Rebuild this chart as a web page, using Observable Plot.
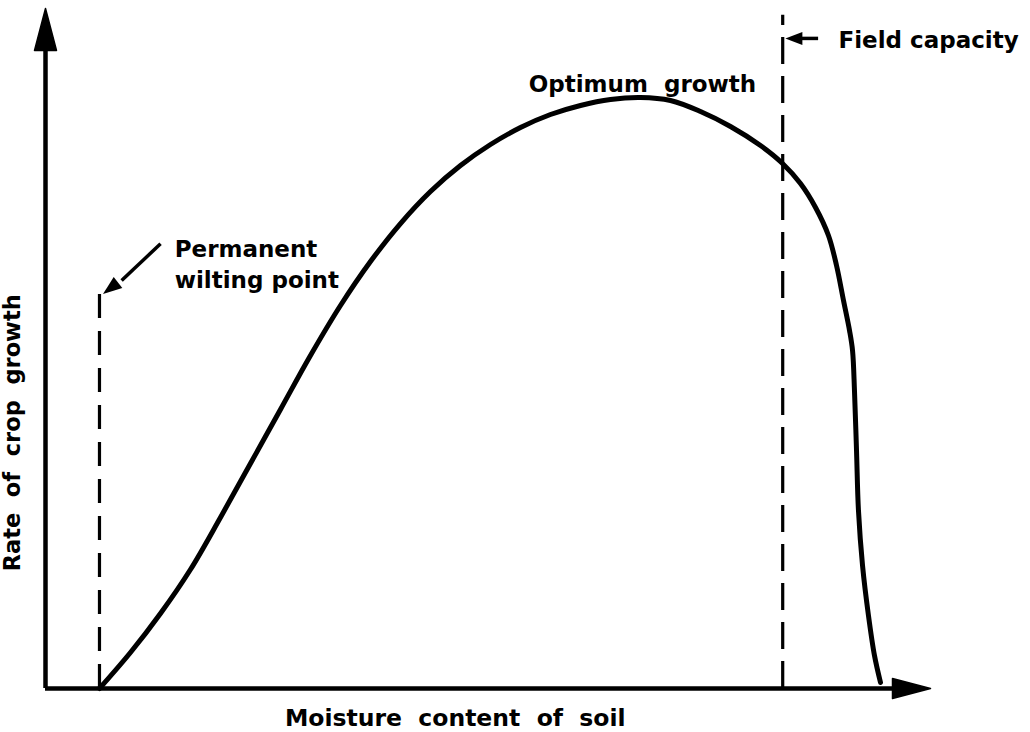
<!DOCTYPE html>
<html>
<head>
<meta charset="utf-8">
<script src="https://cdn.jsdelivr.net/npm/d3@7"></script>
<script src="https://cdn.jsdelivr.net/npm/@observablehq/plot@0.6"></script>
<style>
  html, body { margin: 0; padding: 0; background: #fff; }
  #chart svg { display: block; }
</style>
</head>
<body>
<div id="chart"></div>
<script>
// Moisture content of soil (0..100, arbitrary units) vs rate of crop growth (0..100)
const moisture = [6.10, 9.60, 12.99, 16.38, 19.77, 23.16, 26.55, 29.94, 33.33, 36.72, 40.11, 43.50, 46.89, 50.28, 53.67, 57.06, 60.45, 63.84, 67.23, 70.62, 74.01, 77.40, 80.79, 83.28, 85.31, 87.01, 88.47, 89.38, 90.17, 90.85, 91.19, 91.41, 91.64, 91.86, 92.32, 92.99, 93.67, 94.35];
const growth   = [0.00, 5.29, 11.03, 17.50, 25.15, 33.09, 41.03, 48.97, 56.32, 62.79, 68.38, 73.09, 76.91, 80.00, 82.50, 84.41, 85.74, 86.62, 86.91, 86.47, 84.85, 82.65, 79.85, 77.21, 74.26, 70.74, 66.62, 62.21, 57.06, 52.65, 49.71, 43.82, 35.00, 26.18, 18.09, 10.74, 4.85, 0.88];

const wiltingPoint = 6.1;   // moisture at permanent wilting point
const wiltingTop = 59.7;
const fieldCapacity = 83.3; // moisture at field capacity
const fieldTop = 99;

const labels = ["Field capacity", "Optimum  growth", "Permanent\nwilting point"];
const labelX = [89.6, 54.6, 14.6];
const labelY = [95.7, 89.2, 62.6];

const xTitle = "Moisture  content  of  soil";
const yTitle = "Rate  of  crop  growth";

const curve = moisture.map((m, i) => ({m, g: growth[i]}));
const notes = labels.map((t, i) => ({t, x: labelX[i], y: labelY[i]}));

// filled arrowhead symbol (tip at origin, pointing up)
function head(len, half) {
  return {
    draw(ctx) {
      ctx.moveTo(0, 0);
      ctx.lineTo(half, len);
      ctx.lineTo(-half, len);
      ctx.closePath();
    }
  };
}

const font = "'DejaVu Sans', sans-serif";

const chart = Plot.plot({
  width: 1030,
  height: 732,
  margin: 0,
  style: {background: "#fff", color: "#000"},
  x: {domain: [0, 100], range: [45, 930], axis: null},
  y: {domain: [0, 100], range: [688, 8], axis: null},
  marks: [
    // axes
    Plot.ruleX([0], {y1: 0, y2: 95, stroke: "#000", strokeWidth: 4.5}),
    Plot.ruleY([0], {x1: 0, x2: 97, stroke: "#000", strokeWidth: 4.5}),
    Plot.dot([{x: 0, y: 100}], {x: "x", y: "y", symbol: head(42, 11), r: 5, fill: "#000", stroke: "#000", strokeWidth: 1.5, strokeLinejoin: "round"}),
    Plot.dot([{x: 100, y: 0}], {x: "x", y: "y", symbol: head(38, 10), r: 5, fill: "#000", stroke: "#000", strokeWidth: 1.5, strokeLinejoin: "round", rotate: 90}),
    // dashed reference lines
    Plot.ruleX([wiltingPoint], {y1: 0, y2: wiltingTop, stroke: "#000", strokeWidth: 3.2, strokeDasharray: "24,13"}),
    Plot.ruleX([fieldCapacity], {y1: 0, y2: fieldTop, stroke: "#000", strokeWidth: 3.2, strokeDasharray: "27,12"}),
    // growth curve
    Plot.line(curve, {x: "m", y: "g", curve: "catmull-rom", stroke: "#000", strokeWidth: 5, strokeLinecap: "round"}),
    // annotation arrows
    Plot.link([{x1: 87.3, y1: 95.6, x2: 85.0, y2: 95.6}], {x1: "x1", y1: "y1", x2: "x2", y2: "y2", stroke: "#000", strokeWidth: 3.5}),
    Plot.dot([{x: 83.6, y: 95.6}], {x: "x", y: "y", symbol: head(17, 6.5), r: 5, fill: "#000", rotate: 270}),
    Plot.link([{x1: 13.0, y1: 65.4, x2: 8.6, y2: 60.0}], {x1: "x1", y1: "y1", x2: "x2", y2: "y2", stroke: "#000", strokeWidth: 3.5}),
    Plot.dot([{x: 6.5, y: 58.0}], {x: "x", y: "y", symbol: head(19, 7), r: 5, fill: "#000", rotate: 232}),
    // labels
    Plot.text(notes, {x: "x", y: "y", text: "t", textAnchor: "start", lineHeight: 1.35, fontSize: 23, fontWeight: "bold", fontFamily: font, fill: "#000"}),
    Plot.text([xTitle], {x: 46.3, y: -4.4, text: d => d, fontSize: 23.5, fontWeight: "bold", fontFamily: font, fill: "#000"}),
    Plot.text([yTitle], {x: -3.7, y: 37.6, text: d => d, rotate: -90, fontSize: 22.5, fontWeight: "bold", fontFamily: font, fill: "#000"})
  ]
});
chart.querySelectorAll("text").forEach(t => t.setAttribute("style", (t.getAttribute("style") || "") + ";white-space:pre"));
document.getElementById("chart").appendChild(chart);
</script>
</body>
</html>
